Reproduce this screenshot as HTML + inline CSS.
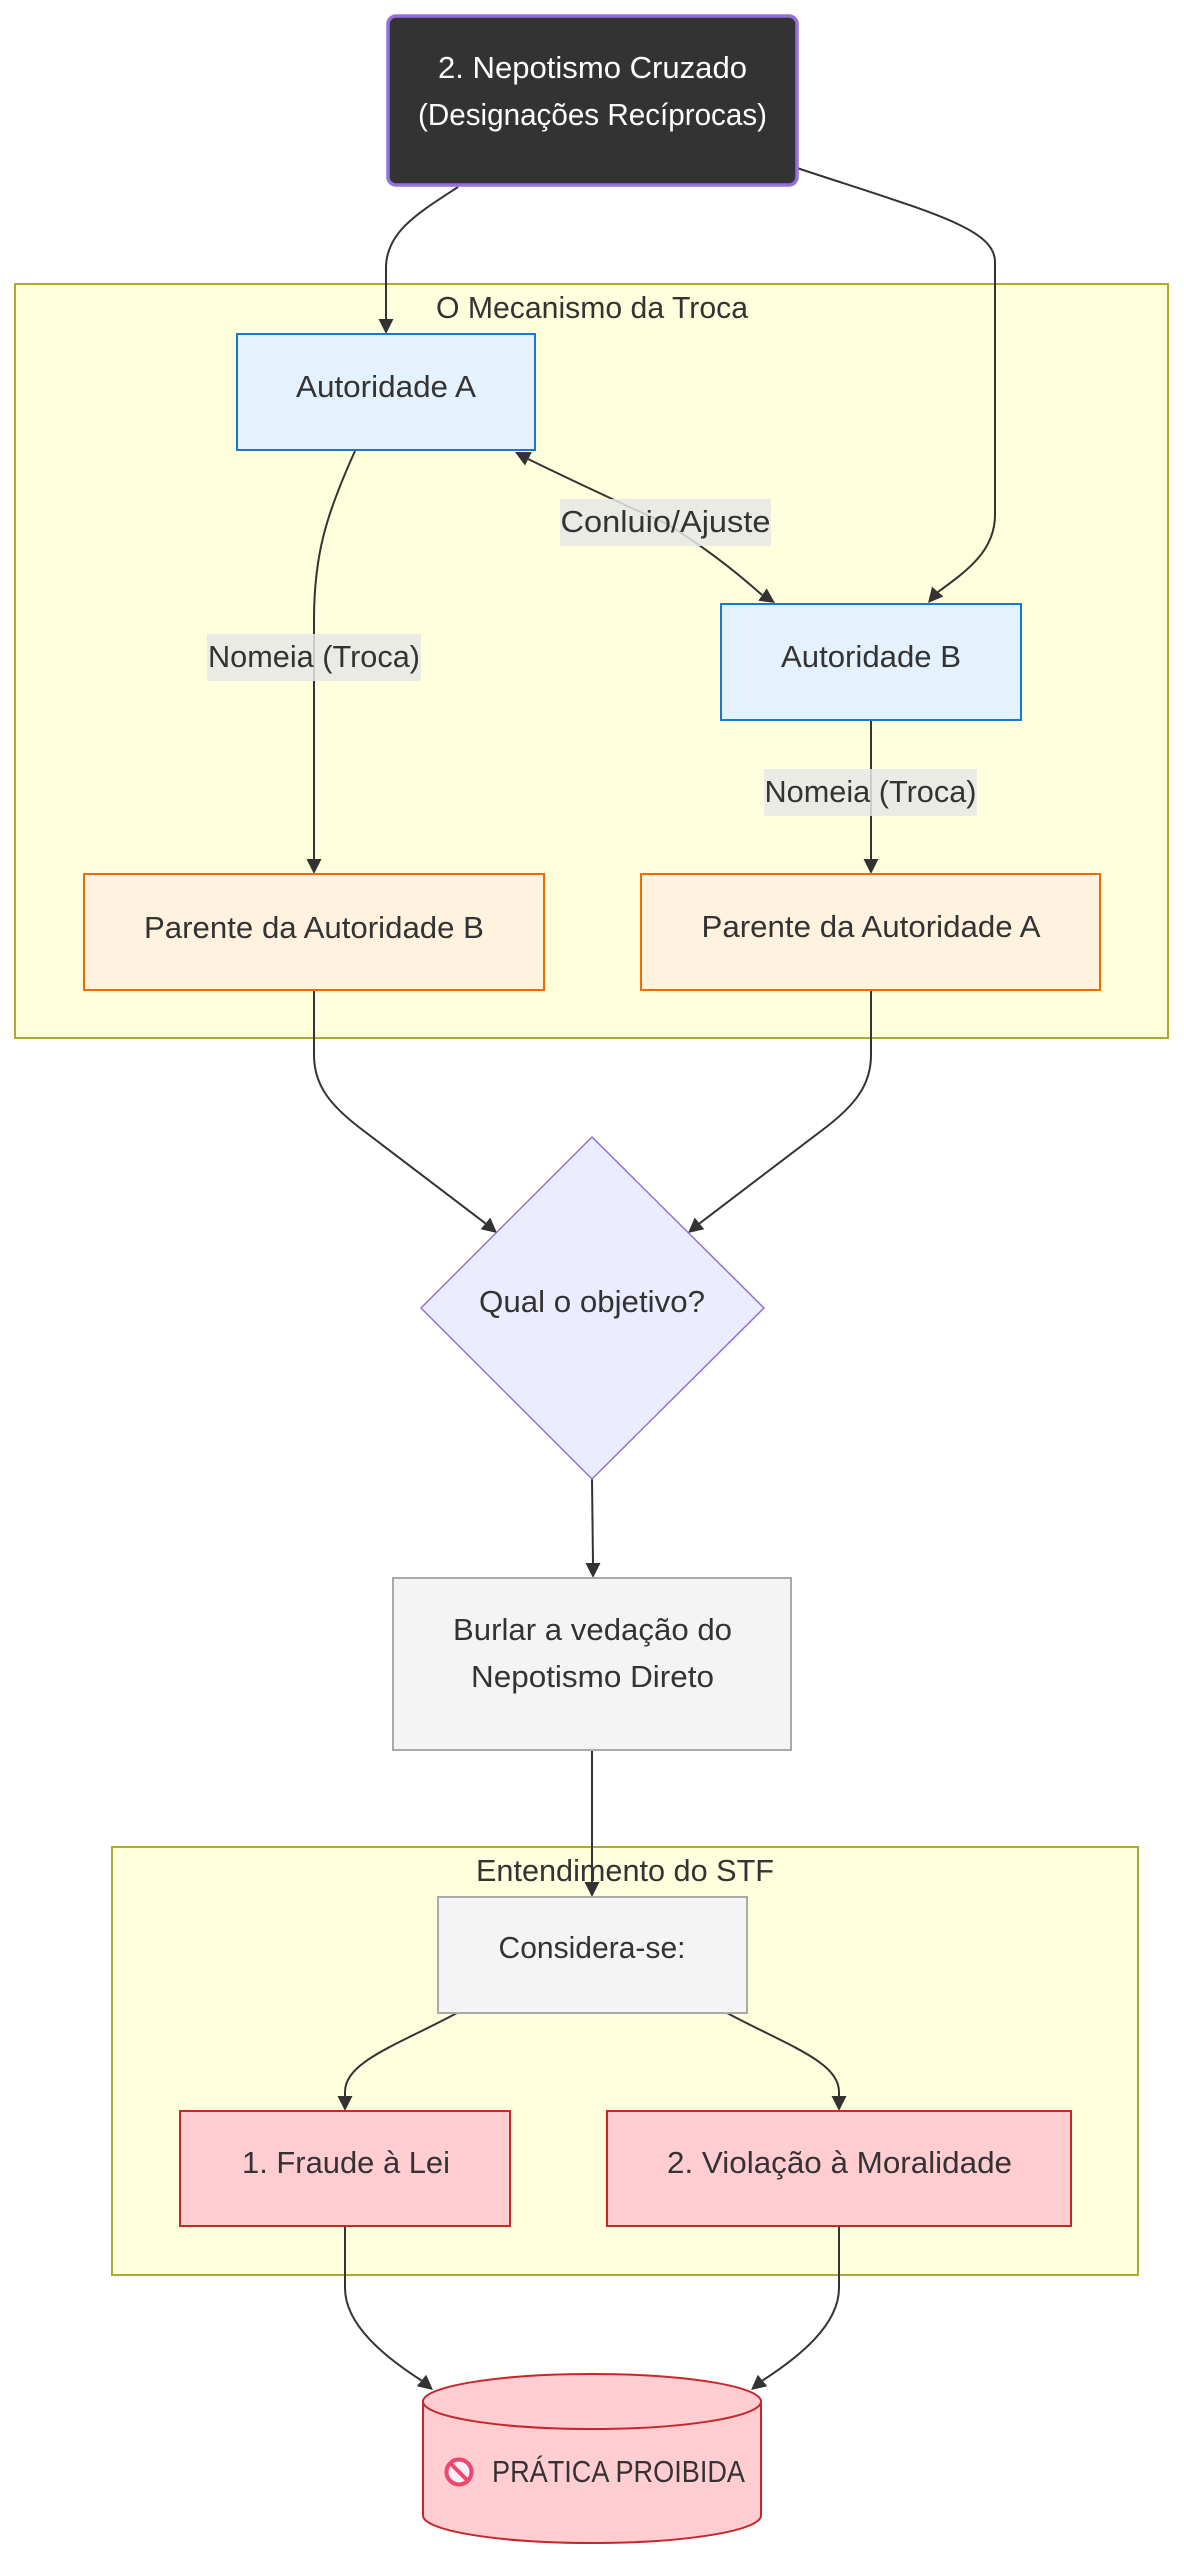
<!DOCTYPE html>
<html>
<head>
<meta charset="utf-8">
<style>
  html, body { margin: 0; padding: 0; background: #ffffff; }
  body { width: 1184px; height: 2560px; overflow: hidden; }
  svg { display: block; }
  text { font-family: "Liberation Sans", "DejaVu Sans", sans-serif; font-size: 31px; fill: #333333; }
</style>
</head>
<body>
<svg width="1184" height="2560" viewBox="0 0 1184 2560" xmlns="http://www.w3.org/2000/svg">
  <!-- Clusters -->
  <rect x="15" y="284" width="1153" height="754" fill="#ffffde" stroke="#aaaa33" stroke-width="2"/>
  <text x="592" y="318" text-anchor="middle" textLength="312" lengthAdjust="spacingAndGlyphs">O Mecanismo da Troca</text>

  <rect x="112" y="1847" width="1026" height="428" fill="#ffffde" stroke="#aaaa33" stroke-width="2"/>
  <text x="625" y="1881" text-anchor="middle" textLength="298" lengthAdjust="spacingAndGlyphs">Entendimento do STF</text>

  <!-- Edges -->
  <g fill="none" stroke="#333333" stroke-width="2">
    <path d="M458,187 C418,213 386,232 386,268 L386,320"/>
    <path d="M797,168 C930,212 995,228 995,262 L995,515 C995,552 965,572 938,592"/>
    <path d="M528,459 Q600,494 665,523 Q715,553 762,595"/>
    <path d="M355,451 C326,515 314,555 314,620 L314,859"/>
    <path d="M871,720 L871,859"/>
    <path d="M314,990 L314,1055 C314,1085 330,1105 360,1128 L485.5,1223.4"/>
    <path d="M871,990 L871,1055 C871,1085 855,1105 825,1128 L699.5,1223.4"/>
    <path d="M592,1479 L593,1563"/>
    <path d="M592,1750 L592,1882"/>
    <path d="M457,2013 C395,2046 345,2062 345,2092 L345,2096"/>
    <path d="M727,2013 C789,2046 839,2062 839,2092 L839,2096"/>
    <path d="M345,2226 L345,2288 C345,2325 385,2357 421.5,2380.5"/>
    <path d="M839,2226 L839,2288 C839,2325 799,2357 762.5,2380.5"/>
  </g>

  <!-- Arrowheads -->
  <g fill="#333333" stroke="none">
    <polygon points="378.5,319 393.5,319 386,334"/>
    <polygon points="943.4,596.5 932,586.7 928,603"/>
    <polygon points="531.8,452.1 525,465.5 515,452"/>
    <polygon points="758.3,600.8 766.7,588.4 775,603"/>
    <polygon points="306.5,859 321.5,859 314,874"/>
    <polygon points="863.5,859 878.5,859 871,874"/>
    <polygon points="480.7,1229.2 490.3,1217.6 497,1233"/>
    <polygon points="704.3,1229.2 694.7,1217.6 688,1233"/>
    <polygon points="585.5,1563 600.5,1563 593,1578"/>
    <polygon points="584.5,1882 599.5,1882 592,1897"/>
    <polygon points="337.5,2096 352.5,2096 345,2111"/>
    <polygon points="831.5,2096 846.5,2096 839,2111"/>
    <polygon points="416.8,2386.3 426.2,2374.7 433,2390"/>
    <polygon points="767.2,2386.3 757.8,2374.7 751,2390"/>
  </g>

  <!-- Edge labels -->
  <rect x="560" y="499" width="211" height="47" fill="#e8e8e8" fill-opacity="0.85"/>
  <text x="665.5" y="532" text-anchor="middle" textLength="210" lengthAdjust="spacingAndGlyphs">Conluio/Ajuste</text>

  <rect x="207" y="634" width="214" height="47" fill="#e8e8e8" fill-opacity="0.85"/>
  <text x="314" y="667" text-anchor="middle" textLength="212" lengthAdjust="spacingAndGlyphs">Nomeia (Troca)</text>

  <rect x="764" y="769" width="213" height="47" fill="#e8e8e8" fill-opacity="0.85"/>
  <text x="870.5" y="802" text-anchor="middle" textLength="212" lengthAdjust="spacingAndGlyphs">Nomeia (Troca)</text>

  <!-- Top node -->
  <rect x="388" y="16" width="409" height="169" rx="8" ry="8" fill="#333333" stroke="#9370db" stroke-width="3.5"/>
  <text x="592.5" y="78" text-anchor="middle" style="fill:#ffffff" textLength="309" lengthAdjust="spacingAndGlyphs">2. Nepotismo Cruzado</text>
  <text x="592.5" y="125" text-anchor="middle" style="fill:#ffffff" textLength="349" lengthAdjust="spacingAndGlyphs">(Designações Recíprocas)</text>

  <!-- Autoridade A / B -->
  <rect x="237" y="334" width="298" height="116" fill="#e3f2fd" stroke="#1976d2" stroke-width="2"/>
  <text x="386" y="397" text-anchor="middle" textLength="180" lengthAdjust="spacingAndGlyphs">Autoridade A</text>

  <rect x="721" y="604" width="300" height="116" fill="#e3f2fd" stroke="#1976d2" stroke-width="2"/>
  <text x="871" y="667" text-anchor="middle" textLength="180" lengthAdjust="spacingAndGlyphs">Autoridade B</text>

  <!-- Parentes -->
  <rect x="84" y="874" width="460" height="116" fill="#fff3e0" stroke="#ef6c00" stroke-width="2"/>
  <text x="314" y="938" text-anchor="middle" textLength="340" lengthAdjust="spacingAndGlyphs">Parente da Autoridade B</text>

  <rect x="641" y="874" width="459" height="116" fill="#fff3e0" stroke="#ef6c00" stroke-width="2"/>
  <text x="871" y="937" text-anchor="middle" textLength="339" lengthAdjust="spacingAndGlyphs">Parente da Autoridade A</text>

  <!-- Diamond -->
  <polygon points="592,1137 764,1308 592,1479 421,1308" fill="#ececff" stroke="#9370db" stroke-width="1.5"/>
  <text x="592" y="1312" text-anchor="middle" textLength="226" lengthAdjust="spacingAndGlyphs">Qual o objetivo?</text>

  <!-- Burlar -->
  <rect x="393" y="1578" width="398" height="172" fill="#f4f4f4" stroke="#aaaaaa" stroke-width="2"/>
  <text x="592.5" y="1640" text-anchor="middle" textLength="279" lengthAdjust="spacingAndGlyphs">Burlar a vedação do</text>
  <text x="592.5" y="1687" text-anchor="middle" textLength="243" lengthAdjust="spacingAndGlyphs">Nepotismo Direto</text>

  <!-- Considera-se -->
  <rect x="438" y="1897" width="309" height="116" fill="#f4f4f4" stroke="#aaaaaa" stroke-width="2"/>
  <text x="592" y="1958" text-anchor="middle" textLength="187" lengthAdjust="spacingAndGlyphs">Considera-se:</text>

  <!-- Fraude / Violação -->
  <rect x="180" y="2111" width="330" height="115" fill="#ffcdd2" stroke="#c62828" stroke-width="2"/>
  <text x="346" y="2173" text-anchor="middle" textLength="208" lengthAdjust="spacingAndGlyphs">1. Fraude à Lei</text>

  <rect x="607" y="2111" width="464" height="115" fill="#ffcdd2" stroke="#c62828" stroke-width="2"/>
  <text x="839.5" y="2173" text-anchor="middle" textLength="345" lengthAdjust="spacingAndGlyphs">2. Violação à Moralidade</text>

  <!-- Cylinder -->
  <path d="M423,2401.5 A169,27.5 0 0 1 761,2401.5 L761,2515.5 A169,27.5 0 0 1 423,2515.5 Z" fill="#ffcdd2" stroke="#c62828" stroke-width="2"/>
  <path d="M423,2401.5 A169,27.5 0 0 0 761,2401.5" fill="none" stroke="#c62828" stroke-width="2"/>
  <!-- prohibited icon -->
  <circle cx="459" cy="2472" r="12.5" fill="#f7f0fb" stroke="#f2456a" stroke-width="4"/>
  <line x1="450.5" y1="2463.5" x2="467.5" y2="2480.5" stroke="#f2456a" stroke-width="4"/>
  <text x="618.5" y="2482" text-anchor="middle" textLength="253" lengthAdjust="spacingAndGlyphs">PRÁTICA PROIBIDA</text>
</svg>
</body>
</html>
